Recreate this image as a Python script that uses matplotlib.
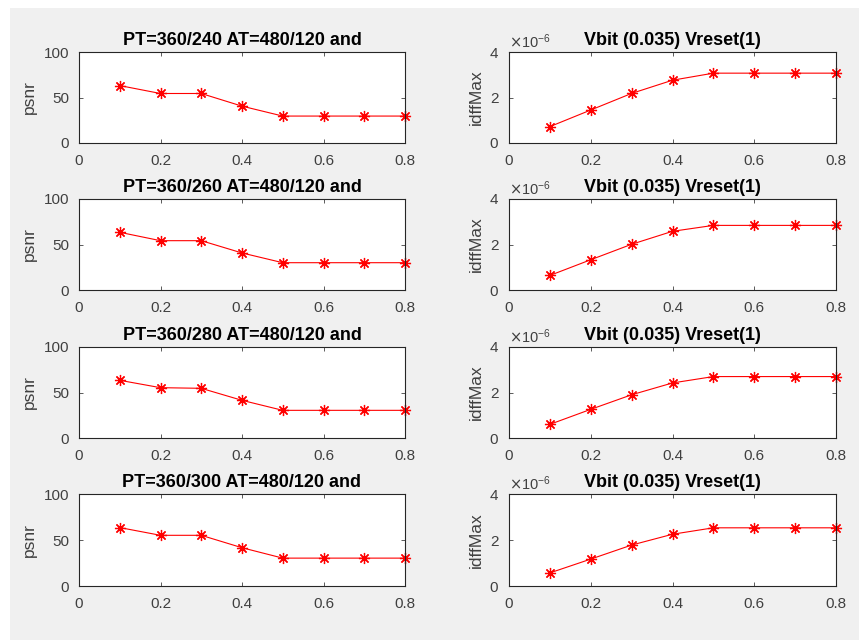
import matplotlib
matplotlib.use("Agg")
import matplotlib.pyplot as plt
from matplotlib.patches import Rectangle
from matplotlib.ticker import ScalarFormatter

plt.rcParams['font.family'] = ['Liberation Sans', 'DejaVu Sans']

x = [0.1, 0.2, 0.3, 0.4, 0.5, 0.6, 0.7, 0.8]

titles_left = ["PT=360/240 AT=480/120 and",
               "PT=360/260 AT=480/120 and",
               "PT=360/280 AT=480/120 and",
               "PT=360/300 AT=480/120 and"]
title_right = "Vbit (0.035) Vreset(1)"

psnr_240 = [63.1, 54.4, 54.4, 40.5, 29.6, 29.6, 29.6, 29.6]
psnr_260 = [63.4, 54.2, 54.2, 40.7, 30.0, 30.0, 30.0, 30.0]
psnr_280 = [63.4, 55.3, 54.6, 41.4, 30.4, 30.4, 30.4, 30.4]
psnr_300 = [63.5, 55.1, 55.1, 41.6, 30.3, 30.3, 30.3, 30.3]

idff_240 = [0.72e-6, 1.45e-6, 2.18e-6, 2.76e-6, 3.07e-6, 3.07e-6, 3.07e-6, 3.07e-6]
idff_260 = [0.64e-6, 1.33e-6, 2.01e-6, 2.58e-6, 2.84e-6, 2.84e-6, 2.84e-6, 2.84e-6]
idff_280 = [0.60e-6, 1.26e-6, 1.90e-6, 2.42e-6, 2.70e-6, 2.70e-6, 2.70e-6, 2.70e-6]
idff_300 = [0.57e-6, 1.17e-6, 1.78e-6, 2.25e-6, 2.53e-6, 2.53e-6, 2.53e-6, 2.53e-6]

psnr_all = [psnr_240, psnr_260, psnr_280, psnr_300]
idff_all = [idff_240, idff_260, idff_280, idff_300]

W, H = 859, 640
fig = plt.figure(figsize=(W / 100, H / 100), dpi=100, facecolor='white')
fig.patches.append(Rectangle((10 / W, 0), 1 - 10 / W, 1 - 8 / H,
                             transform=fig.transFigure, facecolor='#f0f0f0',
                             edgecolor='none', zorder=-10))

tops = [52, 199, 347, 494]
bots = [143, 290, 438, 586]
lefts = [(79, 405), (509, 836)]
tc = '#262626'
lc = '#404040'
MARK = (8, 2, 0)

def style(ax):
    ax.set_facecolor('white')
    for s in ax.spines.values():
        s.set_color(tc)
        s.set_linewidth(0.8)
    ax.tick_params(direction='in', top=True, right=True, length=3,
                   width=0.6, colors=lc, labelsize=11)
    ax.tick_params(axis='x', pad=8)
    ax.tick_params(axis='y', pad=7)
    ax.set_xlim(0, 0.8)
    ax.set_xticks([0, 0.2, 0.4, 0.6, 0.8])
    ax.set_xticklabels(['0', '0.2', '0.4', '0.6', '0.8'])

def draw(ax, y):
    ax.plot(x, y, color='red', lw=0.8, marker=MARK, ms=8, mew=0.9,
            mec='red', clip_on=False)

for i in range(4):
    y0 = 1 - bots[i] / H
    h = (bots[i] - tops[i]) / H
    # left
    xl, xr = lefts[0]
    ax = fig.add_axes([xl / W, y0, (xr - xl) / W, h])
    style(ax)
    draw(ax, psnr_all[i])
    ax.set_ylim(0, 100)
    ax.set_yticks([0, 50, 100])
    ax.set_ylabel('psnr', fontsize=12.5, color=lc, labelpad=5)
    ax.set_title(titles_left[i], fontsize=13, fontweight='bold', pad=5,
                 color='black')
    # right
    xl, xr = lefts[1]
    ax = fig.add_axes([xl / W, y0, (xr - xl) / W, h])
    style(ax)
    draw(ax, idff_all[i])
    ax.set_ylim(0, 4e-6)
    ax.set_yticks([0, 2e-6, 4e-6])
    fmt = ScalarFormatter(useMathText=True)
    fmt.set_powerlimits((0, 0))
    ax.yaxis.set_major_formatter(fmt)
    ax.yaxis.get_offset_text().set_fontsize(10.5)
    ax.yaxis.get_offset_text().set_color(lc)
    ax.set_ylabel('idffMax', fontsize=12.5, color=lc, labelpad=4)
    ax.set_title(title_right, fontsize=13, fontweight='bold', pad=5,
                 color='black')

fig.savefig('out.png', dpi=100, facecolor=fig.get_facecolor())
